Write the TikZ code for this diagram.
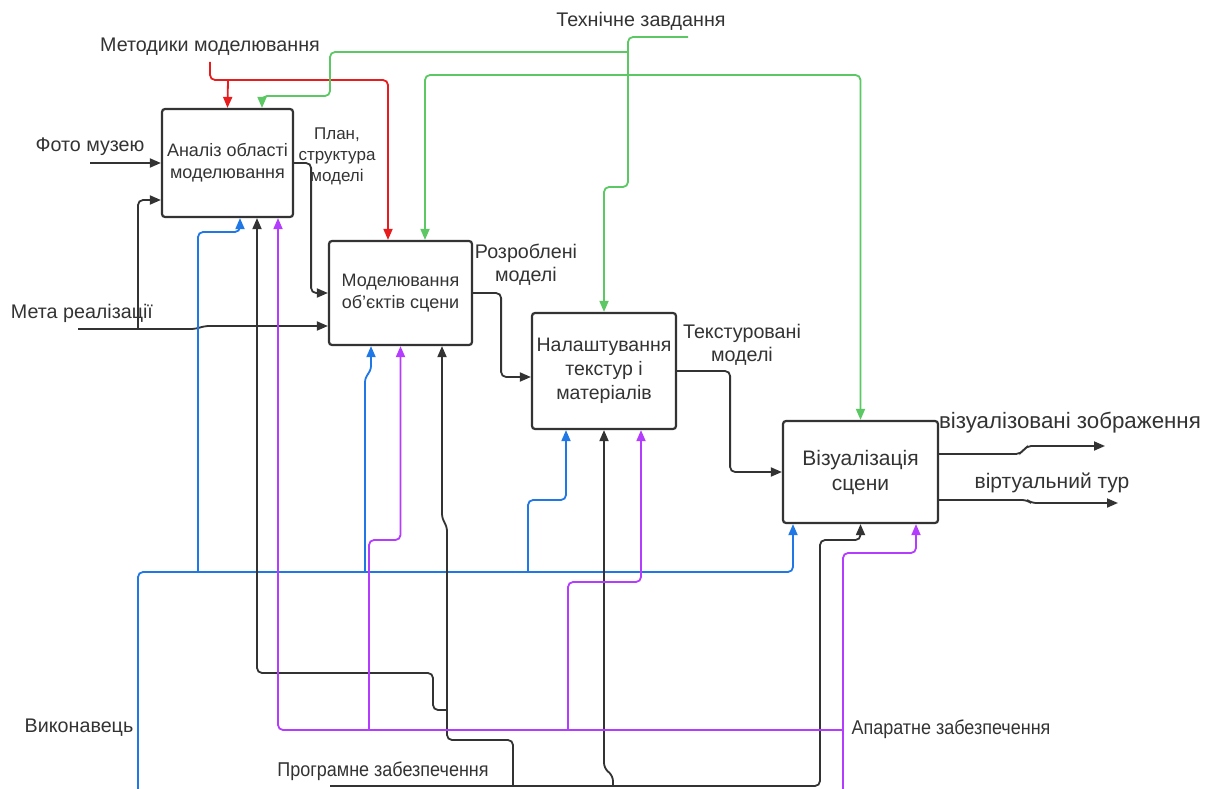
\documentclass[tikz,border=0pt]{standalone}
\usepackage{fontspec}
\setmainfont{Liberation Sans}
\newfontfamily\narrowsans[FakeStretch=0.9]{Liberation Sans}
\usetikzlibrary{arrows.meta}

\definecolor{inkgray}{HTML}{333333}
\definecolor{ctrlred}{HTML}{E81C1C}
\definecolor{ctrlgreen}{HTML}{5CC864}
\definecolor{mechblue}{HTML}{1F78E6}
\definecolor{mechviolet}{HTML}{B43CFF}

\begin{document}
\begin{tikzpicture}[x=1pt,y=-1pt]
  \tikzset{block/.style = {shape=rectangle,draw=inkgray,line width=2.2pt,rounded corners=3pt,align=center,font=\fontsize{18}{22}\selectfont,text=inkgray,inner sep=2pt}}
  \tikzset{flow/.style = {-{Triangle[length=11pt,width=9pt]},line width=1.8pt,rounded corners=5pt,draw=inkgray}}
  \tikzset{tag/.style = {align=center,font=\fontsize{19.7}{23}\selectfont,text=inkgray,inner sep=0pt}}
  \tikzset{narrowtag/.style = {tag,font=\narrowsans\fontsize{20}{23}\selectfont}}

  \useasboundingbox (0,0) rectangle (1215,789);

  % functions
	\node[block,minimum width=131pt,minimum height=108pt] (AO) at (227.5,163) {Аналіз області\\моделювання};
	\node[block,minimum width=143pt,minimum height=104pt] (MO) at (400.5,293) {Моделювання\\об'єктів сцени};
	\node[block,minimum width=144pt,minimum height=116pt,font=\fontsize{19.5}{24}\selectfont] (NT) at (604,371) {Налаштування\\текстур і\\матеріалів};
	\node[block,minimum width=155pt,minimum height=102pt,font=\fontsize{21}{25}\selectfont] (VS) at (860.5,472) {Візуалізація\\сцени};

  % labels
	\node[tag] (MM) at (210,47) {Методики моделювання};
	\node[tag] (TZ) at (641,21) {Технічне завдання};
	\node[tag] (FM) at (90,147) {Фото музею};
	\node[tag] (MR) at (82,313) {Мета реалізації};
	\node[tag,font=\fontsize{17}{21}\selectfont] (PS) at (337,156) {План,\\структура\\моделі};
	\node[tag] (RM) at (526,265) {Розроблені\\моделі};
	\node[tag] (TM) at (742,345) {Текстуровані\\моделі};
	\node[tag,font=\fontsize{22.3}{26}\selectfont] (VZ) at (1070,423) {візуалізовані зображення};
	\node[tag,font=\fontsize{21}{25}\selectfont] (VT) at (1052,483) {віртуальний тур};
	\node[tag] (VK) at (79,728) {Виконавець};
	\node[narrowtag] (AZ) at (951,729) {Апаратне забезпечення};
	\node[narrowtag] (PZ) at (383,771) {Програмне забезпечення};

  % free ends
	\coordinate (r0) at (210,62);
	\coordinate (g0) at (688,37);
	\coordinate (f0) at (90,163);
	\coordinate (m0) at (78,329);
	\coordinate (b0) at (138,789);
	\coordinate (p0) at (330,786);
	\coordinate (a0) at (843,789);
	\coordinate (o1) at (1105,446);
	\coordinate (o2) at (1118,503);

  % controls
	\draw[flow,draw=ctrlred] (r0) -- (210,80) -| ([xshift=-12.5pt]MO.north);
	\draw[flow,draw=ctrlred] (228,80) -- (AO.north);
	\draw[flow,draw=ctrlgreen] (g0) -| (628,187) -| (NT.north);
	\draw[flow,draw=ctrlgreen] (628,52) -| (330,96) -| ([xshift=34.5pt]AO.north);
	\draw[flow,draw=ctrlgreen] (628,75) -| ([xshift=24.5pt]MO.north);
	\draw[flow,draw=ctrlgreen] (628,75) -| (VS.north);

  % inputs and outputs
	\draw[flow] (f0) -- (AO.west);
	\draw[flow] (m0) -- (196,329) -- (204,326) -- ([yshift=-33pt]MO.west);
	\draw[flow] (138,329) |- ([yshift=-37pt]AO.west);
	\draw[flow] (AO.east) -- ++(17,0) |- (MO.west);
	\draw[flow] (MO.east) -- ++(28,0) |- ([yshift=-6pt]NT.west);
	\draw[flow] (NT.east) -- ++(53,0) |- (VS.west);
	\draw[flow] ([yshift=18pt]VS.east) -- ++(82,0) -- ++(5,-8) -- (o1);
	\draw[flow] ([yshift=-28pt]VS.east) -- ++(88,0) -- ++(4,3) -- (o2);

  % mechanisms
	\draw[flow,draw=mechblue] (b0) |- (793,572) -- ([xshift=-67.5pt]VS.south);
	\draw[flow,draw=mechblue] (198,572) |- (240,232) -- ([xshift=12.5pt]AO.south);
	\draw[flow,draw=mechblue] (365,572) -- (365,377) -- (371,371) -- ([xshift=-29.5pt]MO.south);
	\draw[flow,draw=mechblue] (528,572) |- (566,500) -- ([xshift=-38pt]NT.south);

	\draw[flow] (p0) -| (820,540) -| (VS.south);
	\draw[flow] (613,786) -- (613,776) -- (604,768) -- (NT.south);
	\draw[flow] (513,786) |- (447,740) -- (447,526) -- (442,519) -- ([xshift=41.5pt]MO.south);
	\draw[flow] (447,710) -| (433,673) -| ([xshift=29.5pt]AO.south);

	\draw[flow,draw=mechviolet] (a0) |- (916,553) -- ([xshift=55.5pt]VS.south);
	\draw[flow,draw=mechviolet] (843,730) -| ([xshift=50.5pt]AO.south);
	\draw[flow,draw=mechviolet] (369,730) |- (400.5,540) -- (MO.south);
	\draw[flow,draw=mechviolet] (568,730) |- (641,582) -- ([xshift=37pt]NT.south);
\end{tikzpicture}
\end{document}
